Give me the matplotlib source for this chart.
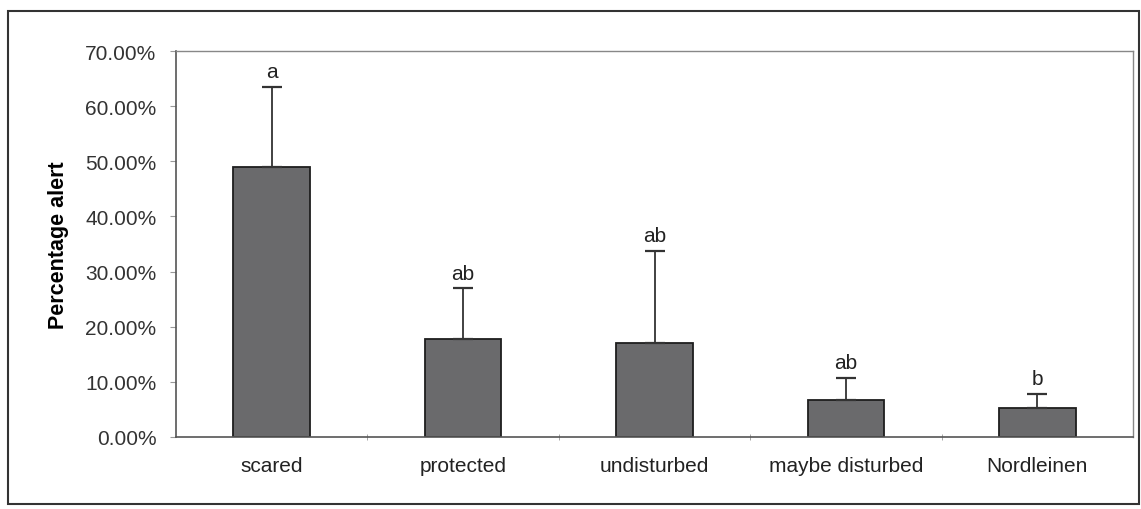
import numpy as np
import matplotlib.pyplot as plt
from matplotlib.ticker import PercentFormatter
from matplotlib.patches import Rectangle

plt.rcParams['font.family'] = ['Liberation Sans', 'DejaVu Sans']

# percentage of alert animals per group, upper error, significance letters
groups = ["scared", "protected", "undisturbed", "maybe disturbed", "Nordleinen"]
alert = [49.0, 17.8, 17.1, 6.7, 5.3]
err_up = [14.5, 9.2, 16.7, 4.0, 2.5]
letters = ["a", "ab", "ab", "ab", "b"]

fig = plt.figure(figsize=(11.41, 5.10), dpi=100)
ax = fig.add_axes([176 / 1141, 1 - 438 / 510, (1133 - 176) / 1141, (438 - 52) / 510])

x = np.arange(len(groups))
ax.bar(x, alert, width=0.40, color='#6a6a6c', edgecolor='#1e1e1e', linewidth=1.3, zorder=2)
ax.errorbar(x, alert, yerr=[np.zeros(len(alert)), err_up], fmt='none',
            ecolor='#333333', elinewidth=1.3, capsize=7, capthick=1.6, zorder=3)

for xi, v, e, lab in zip(x, alert, err_up, letters):
    ax.text(xi, v + e + 1.0, lab, ha='center', va='bottom', fontsize=15, color='#222222')

ax.set_xlim(-0.5, len(groups) - 0.5)
ax.set_ylim(0, 70)
ax.set_yticks(np.arange(0, 71, 10))
ax.yaxis.set_major_formatter(PercentFormatter(decimals=2))
ax.set_xticks(x)
ax.set_xticklabels(groups)
ax.set_xticks(np.arange(0.5, len(groups) - 1, 1.0), minor=True)
ax.tick_params(axis='x', which='major', length=0, pad=14, labelsize=15, labelcolor='#222222')
ax.tick_params(axis='x', which='minor', length=4, direction='inout', color='#999999')
ax.tick_params(axis='y', length=4, color='#999999', labelsize=15, labelcolor='#333333', pad=10)

for side in ['left', 'bottom']:
    ax.spines[side].set_color('#555555')
    ax.spines[side].set_linewidth(1.2)
for side in ['top', 'right']:
    ax.spines[side].set_color('#888888')
    ax.spines[side].set_linewidth(1.0)

ax.set_ylabel("Percentage alert", fontsize=15.5, fontweight='bold', labelpad=12)

# outer frame round the whole chart
fig.patches.append(Rectangle((8 / 1141, 1 - 505 / 510), (1139 - 8) / 1141, (505 - 12) / 510,
                             transform=fig.transFigure, fill=False,
                             edgecolor='#333333', linewidth=1.5))

fig.savefig('out.png', dpi=100)
